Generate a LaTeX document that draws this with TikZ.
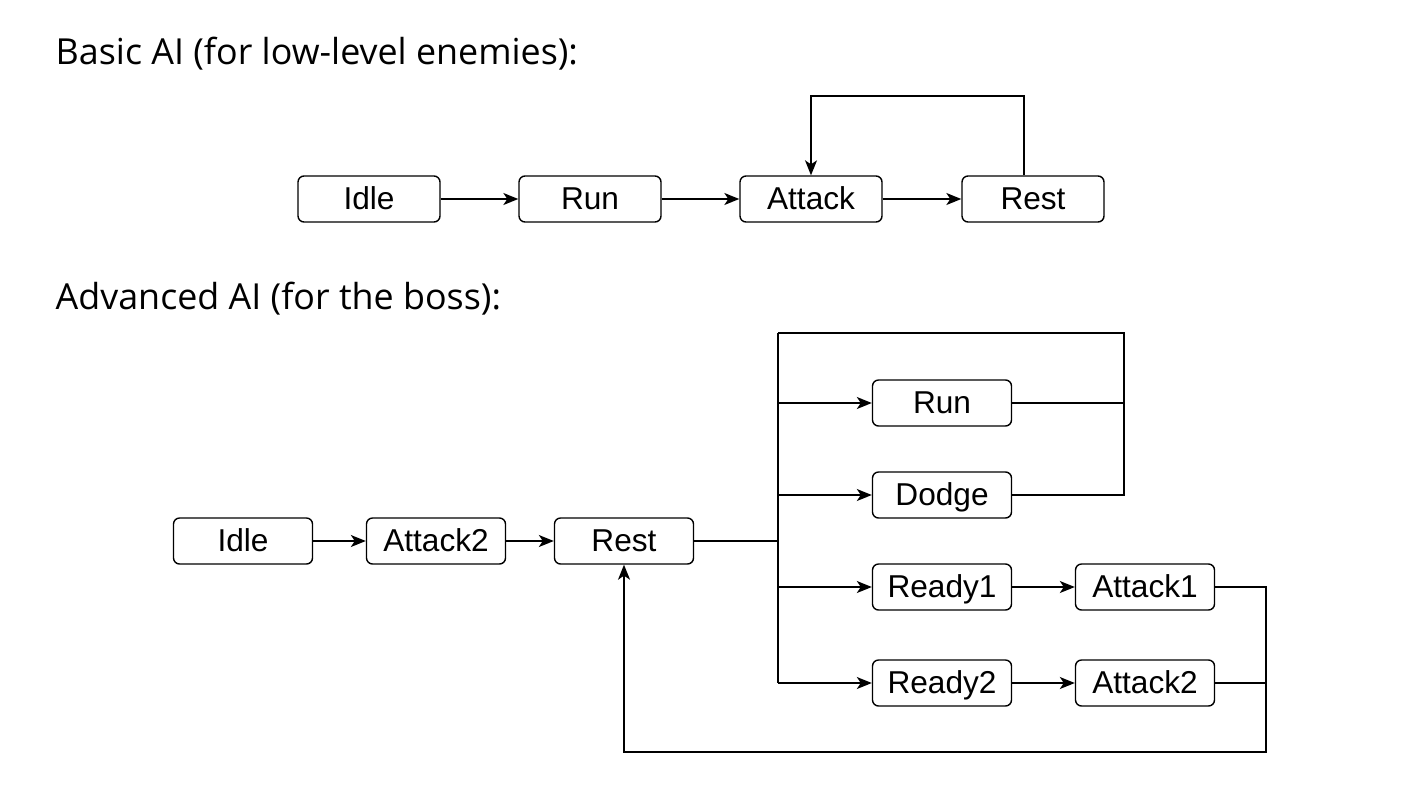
\documentclass[tikz,border=0pt]{standalone}
\usepackage{fontspec}
\setmainfont{Liberation Sans}
\newfontfamily\headfont{Open Sans}
\usetikzlibrary{arrows.meta}

\tikzset{
  aibox/.style={draw, rounded corners=0.12cm, minimum width=2.78cm, minimum height=0.92cm,
    inner sep=0pt, text height=13pt, text depth=0.5pt, font=\fontsize{18}{20}\selectfont},
  link/.style={-{Stealth[length=0.3cm,width=0.24cm,inset=0.08cm]}},
  heading/.style={anchor=base west, inner sep=0pt, font=\headfont\fontsize{20.4}{24}\selectfont},
}

\begin{document}
\begin{tikzpicture}[x=0.02cm, y=-0.02cm, line width=0.8pt]
\useasboundingbox (0,0) rectangle (1408,801);

\node[heading] (basicT) at (55,64) {Basic AI (for low-level enemies):};
\node[aibox, minimum width=2.84cm] (idleA) at (369,199) {Idle};
\node[aibox, minimum width=2.84cm] (runA) at (590,199) {Run};
\node[aibox, minimum width=2.84cm] (attackA) at (811,199) {Attack};
\node[aibox, minimum width=2.84cm] (restA) at (1033,199) {Rest};
\coordinate (loopA) at (1024,96);
\draw[link] (idleA) -- (runA);
\draw[link] (runA) -- (attackA);
\draw[link] (attackA) -- (restA);
\draw[link] (restA.north -| loopA) -- (loopA) -| (attackA.north);

\node[heading] (advT) at (55,309) {Advanced AI (for the boss):};
\node[aibox] (idleB) at (243,541) {Idle};
\node[aibox] (attackB) at (436,541) {Attack2};
\node[aibox] (restB) at (624,541) {Rest};
\node[aibox] (runB) at (942,403) {Run};
\node[aibox] (dodgeB) at (942,495) {Dodge};
\node[aibox] (ready1B) at (942,587) {Ready1};
\node[aibox] (attack1B) at (1145,587) {Attack1};
\node[aibox] (ready2B) at (942,683) {Ready2};
\node[aibox] (attack2B) at (1145,683) {Attack2};
\coordinate (split) at (778,541);
\coordinate (topL) at (778,333);
\coordinate (topR) at (1124,333);
\coordinate (backR) at (1266,752);

\draw[link] (idleB) -- (attackB);
\draw[link] (attackB) -- (restB);
\draw (restB) -- (split);
\draw (topL) -- (split) -- (ready2B.west -| split);
\draw (topL) -- (topR) -- (dodgeB.east -| topR) -- (dodgeB.east);
\draw (runB.east) -- (runB.east -| topR);
\foreach \n in {runB,dodgeB,ready1B,ready2B}
  \draw[link] (\n.west -| split) -- (\n.west);
\draw[link] (ready1B) -- (attack1B);
\draw[link] (ready2B) -- (attack2B);
\draw[link] (attack1B.east) -| (backR) -| (restB.south);
\draw (attack2B.east) -- (attack2B.east -| backR);
\end{tikzpicture}
\end{document}
